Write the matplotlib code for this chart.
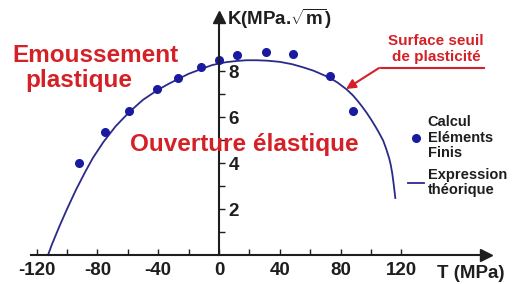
import matplotlib
matplotlib.use('Agg')
import matplotlib.pyplot as plt
from matplotlib.ticker import FixedLocator

# courbe théorique
T_curve = [-112.5, -110, -105, -100, -94, -88, -83, -76, -68, -59, -50, -41, -33, -20,
           -12, -5, 0, 5, 12, 18, 25, 32, 40, 48, 55, 62, 68, 73, 78, 84, 88, 91, 94, 97,
           100, 103, 105, 108, 110, 112, 113, 114, 115, 116]
K_curve = [0, 0.45, 1.25, 2.0, 2.85, 3.62, 4.22, 4.92, 5.6, 6.22, 6.75, 7.15, 7.45, 7.88,
           8.08, 8.25, 8.33, 8.39, 8.44, 8.47, 8.47, 8.45, 8.4, 8.3, 8.17, 8.02, 7.85, 7.7,
           7.5, 7.2, 6.95, 6.72, 6.47, 6.2, 5.9, 5.58, 5.35, 4.98, 4.62, 4.2, 3.92, 3.55,
           3.05, 2.48]

# points calcul éléments finis
T_ef = [-92, -75, -59, -41, -27, -12, 0, 12, 31, 49, 73, 88]
K_ef = [4.0, 5.35, 6.26, 7.22, 7.7, 8.17, 8.48, 8.7, 8.83, 8.74, 7.78, 6.26]

x_labels = [-120, -80, -40, 0, 40, 80, 120]
y_labels = [2, 4, 6, 8]

plt.rcParams['font.family'] = ['Liberation Sans', 'DejaVu Sans']
plt.rcParams['font.weight'] = 'bold'
plt.rcParams['mathtext.fontset'] = 'custom'
plt.rcParams['mathtext.rm'] = 'Liberation Sans:bold'
plt.rcParams['mathtext.bf'] = 'Liberation Sans:bold'

W, H = 514, 284
fig = plt.figure(figsize=(W / 100, H / 100), dpi=100)
ax = fig.add_axes([0, 0, 1, 1])
ax.set_xlim(-144.1, 194.1)
ax.set_ylim(-1.26, 11.09)


def px(x, y):
    return x / W, 1 - y / H


axis_col = '#1e1e1e'
red = '#d42027'

# axes
for s in ['left', 'top']:
    ax.spines[s].set_visible(False)
ax.spines['bottom'].set_position(('data', 0))
ax.spines['bottom'].set_bounds(-124, 172)
ax.spines['right'].set_position(('data', 0))
ax.spines['right'].set_bounds(0, 10.0)
for s in ['bottom', 'right']:
    ax.spines[s].set_color(axis_col)
    ax.spines[s].set_linewidth(1.5)
ax.yaxis.set_ticks_position('right')
ax.xaxis.set_ticks_position('bottom')

ax.plot(176, 0, marker='>', color=axis_col, ms=8, clip_on=False)
ax.plot(0, 10.35, marker='^', color=axis_col, ms=8, clip_on=False)

ax.xaxis.set_major_locator(FixedLocator(x_labels))
ax.xaxis.set_minor_locator(FixedLocator([-100, -60, -20, 20, 60, 100]))
ax.set_xticklabels([str(v) for v in x_labels])
ax.yaxis.set_major_locator(FixedLocator(y_labels))
ax.yaxis.set_minor_locator(FixedLocator([1, 3, 5, 7]))
ax.set_yticklabels([str(v) for v in y_labels])

ax.tick_params(axis='x', which='both', direction='in', length=4, width=1, colors=axis_col,
               labelsize=13.5, pad=5)
ax.tick_params(axis='y', which='both', direction='out', length=4, width=1, colors=axis_col,
               labelsize=13.5, pad=3)

# données
ax.plot(T_curve, K_curve, color='#2a2a8a', lw=1.3, label='Expression\nthéorique')
ax.plot(T_ef, K_ef, 'o', color='#1a1aa0', ms=5.5, label='Calcul\nEléments\nFinis')

# titres des axes
ax.text(*px(227, 19), r'K(MPa.$\sqrt{\mathrm{m}}$)', transform=ax.transAxes,
        fontsize=13.5, ha='left', va='center', color=axis_col)
ax.text(*px(437, 274), 'T (MPa)', transform=ax.transAxes,
        fontsize=13.5, ha='left', va='center', color=axis_col)

# annotations
ax.text(*px(12, 55), 'Emoussement', transform=ax.transAxes, fontsize=17.5,
        ha='left', va='center', color=red)
ax.text(*px(25, 81), 'plastique', transform=ax.transAxes, fontsize=17.5,
        ha='left', va='center', color=red)
ax.text(*px(130, 145), 'Ouverture élastique', transform=ax.transAxes, fontsize=17.5,
        ha='left', va='center', color=red)
ax.text(*px(436, 49), 'Surface seuil\nde plasticité', transform=ax.transAxes, fontsize=11,
        ha='center', va='center', color=red, linespacing=1.25)
ax.annotate('', xy=px(487, 68), xytext=px(378, 68), xycoords='axes fraction',
            arrowprops=dict(arrowstyle='-', color=red, lw=1.5))
ax.annotate('', xy=px(346, 89), xytext=px(379, 68), xycoords='axes fraction',
            arrowprops=dict(arrowstyle='-|>', color=red, lw=1.5, mutation_scale=14,
                            shrinkA=0, shrinkB=0))

handles, labels = ax.get_legend_handles_labels()
leg = ax.legend(handles[::-1], labels[::-1], loc='upper left',
                bbox_to_anchor=px(408, 115), bbox_transform=ax.transAxes,
                frameon=False, fontsize=10.5, handlelength=1.1, handletextpad=0.25,
                labelspacing=0.5, borderpad=0, borderaxespad=0)
for t in leg.get_texts():
    t.set_linespacing(1.15)
    t.set_color('#1e1e1e')

fig.savefig('out.png', dpi=100)
